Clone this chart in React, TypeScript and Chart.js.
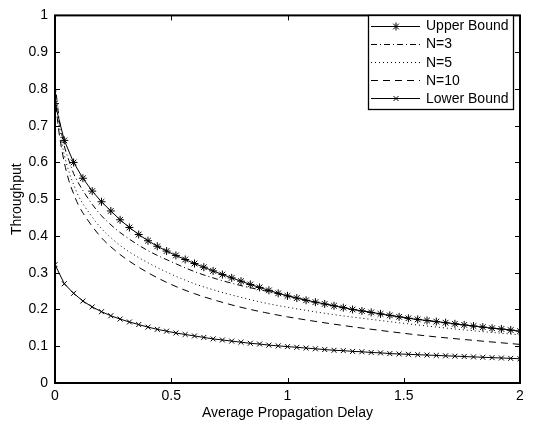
import React, { useEffect, useRef } from "react";
import { Chart, registerables } from "chart.js";

Chart.register(...registerables);

// Marker abscissae for the two bound curves
const boundX = [
  0, 0.04, 0.08, 0.12, 0.16, 0.2, 0.24, 0.28, 0.32, 0.36, 0.4, 0.44, 0.48,
  0.52, 0.56, 0.6, 0.64, 0.68, 0.72, 0.76, 0.8, 0.84, 0.88, 0.92, 0.96, 1.0,
  1.04, 1.08, 1.12, 1.16, 1.2, 1.24, 1.28, 1.32, 1.36, 1.4, 1.44, 1.48, 1.52,
  1.56, 1.6, 1.64, 1.68, 1.72, 1.76, 1.8, 1.84, 1.88, 1.92, 1.96, 2.0,
];
const upperBound = [
  0.76, 0.66, 0.6, 0.557, 0.522, 0.493, 0.468, 0.444, 0.423, 0.404, 0.387, 0.372, 0.359,
  0.347, 0.336, 0.325, 0.315, 0.305, 0.295, 0.286, 0.277, 0.268, 0.26, 0.252, 0.244, 0.237,
  0.231, 0.225, 0.22, 0.215, 0.21, 0.205, 0.2, 0.196, 0.192, 0.188, 0.184, 0.18, 0.176,
  0.173, 0.17, 0.167, 0.164, 0.161, 0.158, 0.155, 0.152, 0.149, 0.147, 0.144, 0.141,
];
const lowerBound = [
  0.322, 0.27, 0.244, 0.223, 0.207, 0.194, 0.183, 0.174, 0.166, 0.159, 0.152, 0.146, 0.141,
  0.136, 0.132, 0.128, 0.124, 0.12, 0.117, 0.114, 0.111, 0.108, 0.106, 0.103, 0.101, 0.099,
  0.097, 0.095, 0.093, 0.091, 0.089, 0.088, 0.086, 0.085, 0.083, 0.082, 0.08, 0.079, 0.078,
  0.077, 0.076, 0.075, 0.074, 0.073, 0.072, 0.071, 0.07, 0.069, 0.068, 0.067, 0.066,
];

// Sample abscissae for the N curves
const curveX = [
  0, 0.01, 0.02, 0.04, 0.06, 0.08, 0.1, 0.15, 0.2, 0.25, 0.3, 0.4, 0.5, 0.6, 0.7,
  0.8, 0.9, 1.0, 1.2, 1.4, 1.6, 1.8, 2.0,
];
const n3 = [
  0.82, 0.76, 0.71, 0.645, 0.605, 0.57, 0.545, 0.495, 0.455, 0.425, 0.4, 0.36, 0.33, 0.303,
  0.282, 0.265, 0.251, 0.237, 0.21, 0.188, 0.17, 0.155, 0.141,
];
const n5 = [
  0.8, 0.74, 0.69, 0.62, 0.575, 0.54, 0.51, 0.46, 0.42, 0.39, 0.365, 0.327, 0.296, 0.27,
  0.25, 0.233, 0.218, 0.206, 0.186, 0.17, 0.155, 0.142, 0.131,
];
const n10 = [
  0.79, 0.72, 0.67, 0.6, 0.55, 0.515, 0.485, 0.435, 0.395, 0.365, 0.34, 0.3, 0.268, 0.243,
  0.223, 0.206, 0.192, 0.18, 0.16, 0.143, 0.128, 0.116, 0.105,
];

const seriesLabels = ["Upper Bound", "N=3", "N=5", "N=10", "Lower Bound"];
const xTickLabels = ["0", "0.5", "1", "1.5", "2"];
const yTickLabels = ["0", "0.1", "0.2", "0.3", "0.4", "0.5", "0.6", "0.7", "0.8", "0.9", "1"];

const FONT = "'Liberation Sans', Arial, Helvetica, sans-serif";
const FS = 14;

const pts = (xs: number[], ys: number[]) => xs.map((x, i) => ({ x, y: ys[i] }));

function drawMarker(ctx: CanvasRenderingContext2D, style: string, cx: number, cy: number, r: number) {
  ctx.beginPath();
  if (style === "star") {
    for (let k = 0; k < 4; k++) {
      const a = (k * Math.PI) / 4;
      ctx.moveTo(cx - r * Math.cos(a), cy - r * Math.sin(a));
      ctx.lineTo(cx + r * Math.cos(a), cy + r * Math.sin(a));
    }
  } else if (style === "crossRot") {
    const d = r * Math.SQRT1_2;
    ctx.moveTo(cx - d, cy - d);
    ctx.lineTo(cx + d, cy + d);
    ctx.moveTo(cx - d, cy + d);
    ctx.lineTo(cx + d, cy - d);
  }
  ctx.stroke();
}

const framePlugin = {
  id: "matlabFrame",
  afterDraw(chart: any) {
    const { ctx, chartArea: a, scales } = chart;
    const xs = scales.x;
    const ys = scales.y;
    ctx.save();
    ctx.strokeStyle = "#000";
    // inward ticks
    ctx.lineWidth = 1;
    ctx.beginPath();
    xs.ticks.forEach((t: any) => {
      const px = Math.round(xs.getPixelForValue(t.value)) + 0.5;
      ctx.moveTo(px, a.bottom);
      ctx.lineTo(px, a.bottom - 5);
      ctx.moveTo(px, a.top);
      ctx.lineTo(px, a.top + 5);
    });
    ys.ticks.forEach((t: any) => {
      const py = Math.round(ys.getPixelForValue(t.value)) + 0.5;
      ctx.moveTo(a.left, py);
      ctx.lineTo(a.left + 5, py);
      ctx.moveTo(a.right, py);
      ctx.lineTo(a.right - 5, py);
    });
    ctx.stroke();
    // box
    ctx.lineWidth = 2;
    ctx.strokeRect(a.left, a.top, a.right - a.left, a.bottom - a.top);

    // legend
    const bx0 = 368, by0 = 15, bx1 = 513, by1 = 109;
    ctx.fillStyle = "#fff";
    ctx.fillRect(bx0, by0, bx1 - bx0, by1 - by0);
    ctx.lineWidth = 1.3;
    ctx.strokeRect(bx0 + 0.5, by0 + 0.5, bx1 - bx0, by1 - by0);
    ctx.font = `${FS}px ${FONT}`;
    ctx.textBaseline = "middle";
    ctx.textAlign = "left";
    chart.data.datasets.forEach((ds: any, i: number) => {
      const ry = by0 + 11 + i * 18.1;
      const ly = Math.round(ry) + 0.5;
      ctx.strokeStyle = "#000";
      ctx.lineWidth = 1;
      ctx.setLineDash(ds.borderDash || []);
      ctx.beginPath();
      ctx.moveTo(371, ly);
      ctx.lineTo(420, ly);
      ctx.stroke();
      ctx.setLineDash([]);
      if (ds.pointRadius > 0) drawMarker(ctx, ds.pointStyle, 396, ly, ds.pointRadius);
      ctx.fillStyle = "#000";
      ctx.fillText(ds.label, 426, ry + 0.5);
    });
    ctx.restore();
  },
};

export default function App() {
  const ref = useRef<HTMLCanvasElement>(null);
  useEffect(() => {
    document.body.style.margin = "0";
    const canvas = ref.current!;
    const chart = new Chart(canvas, {
      type: "line",
      data: {
        datasets: [
          {
            label: seriesLabels[0],
            data: pts(boundX, upperBound),
            borderColor: "#000",
            borderWidth: 1,
            pointStyle: "star",
            pointRadius: 4,
            pointBorderColor: "#000",
            pointBorderWidth: 1,
            pointBackgroundColor: "#000",
          },
          {
            label: seriesLabels[1],
            data: pts(curveX, n3),
            borderColor: "#000",
            borderWidth: 1,
            borderDash: [6, 3, 1, 3],
            pointRadius: 0,
            cubicInterpolationMode: "monotone",
          },
          {
            label: seriesLabels[2],
            data: pts(curveX, n5),
            borderColor: "#000",
            borderWidth: 1,
            borderDash: [1, 3],
            pointRadius: 0,
            cubicInterpolationMode: "monotone",
          },
          {
            label: seriesLabels[3],
            data: pts(curveX, n10),
            borderColor: "#000",
            borderWidth: 1,
            borderDash: [7, 5],
            pointRadius: 0,
            cubicInterpolationMode: "monotone",
          },
          {
            label: seriesLabels[4],
            data: pts(boundX, lowerBound),
            borderColor: "#000",
            borderWidth: 1,
            pointStyle: "crossRot",
            pointRadius: 3.5,
            pointBorderColor: "#000",
            pointBorderWidth: 1,
          },
        ] as any,
      },
      options: {
        animation: false,
        responsive: false,
        events: [],
        layout: { padding: { top: 7, right: 17, left: 0, bottom: 0 } },
        plugins: { legend: { display: false }, tooltip: { enabled: false } },
        scales: {
          x: {
            type: "linear",
            min: 0,
            max: 2,
            grid: { display: false, drawTicks: false },
            border: { display: false },
            ticks: {
              stepSize: 0.5,
              padding: 5,
              maxRotation: 0,
              color: "#000",
              font: { family: FONT, size: FS },
              callback: (_v: any, i: number) => xTickLabels[i],
            },
            title: {
              display: true,
              text: "Average Propagation Delay",
              color: "#000",
              font: { family: FONT, size: FS },
              padding: { top: 0, bottom: 6 },
            },
            afterFit: (s: any) => {
              s.height = 45;
            },
          },
          y: {
            type: "linear",
            min: 0,
            max: 1,
            grid: { display: false, drawTicks: false },
            border: { display: false },
            ticks: {
              stepSize: 0.1,
              padding: 7,
              color: "#000",
              font: { family: FONT, size: FS },
              callback: (_v: any, i: number) => yTickLabels[i],
            },
            title: {
              display: true,
              text: "Throughput",
              color: "#000",
              font: { family: FONT, size: FS },
              padding: { top: 9, bottom: 0 },
            },
            afterFit: (s: any) => {
              s.width = 55;
            },
          },
        },
      } as any,
      plugins: [framePlugin],
    });
    return () => chart.destroy();
  }, []);
  return <canvas ref={ref} width={537} height={428} style={{ display: "block" }} />;
}
